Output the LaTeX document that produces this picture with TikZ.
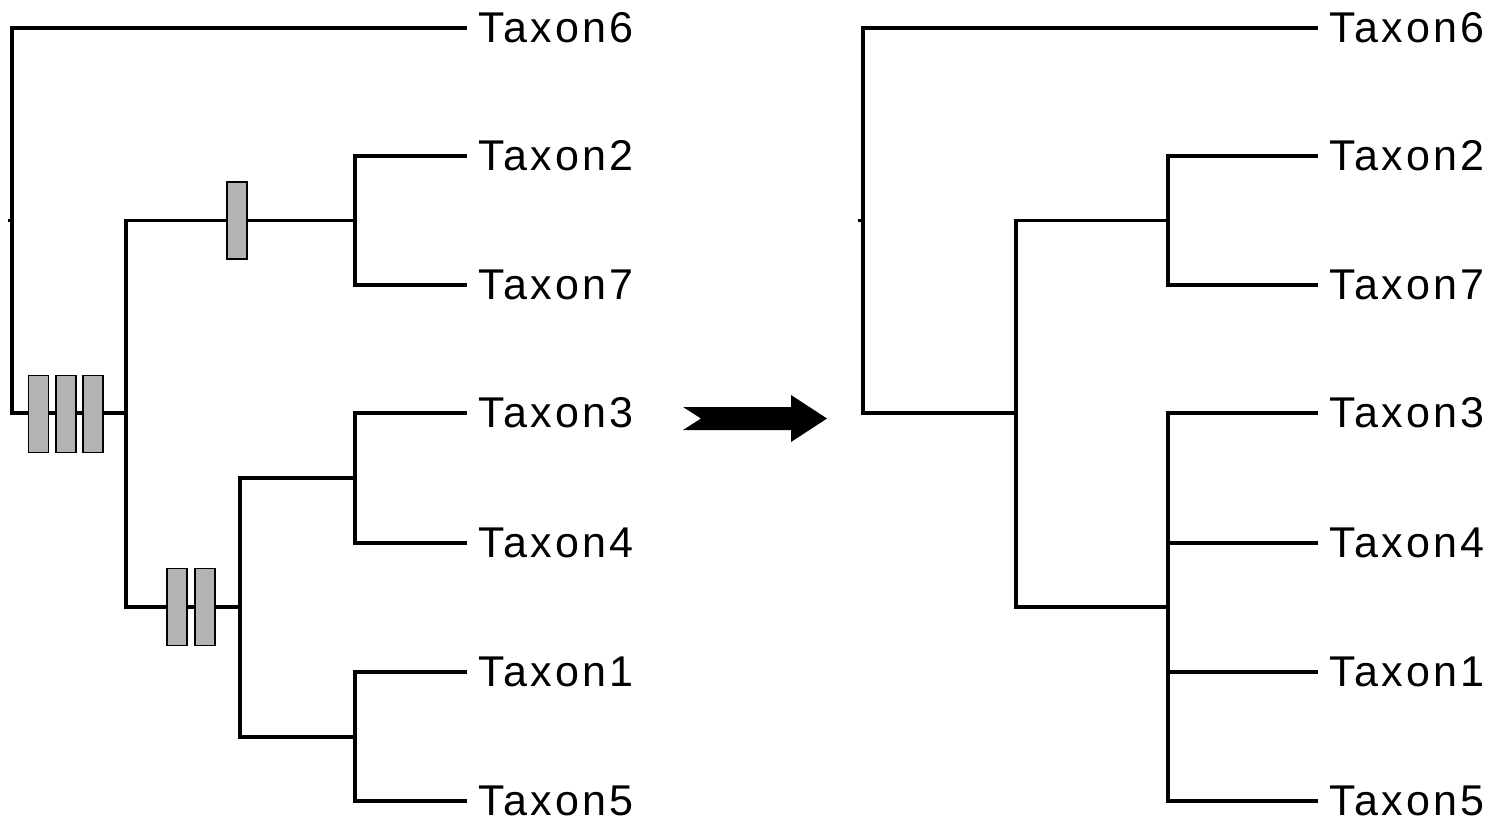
\documentclass[tikz,border=0pt]{standalone}
\usepackage{fontspec}
\newfontfamily\taxfont[LetterSpace=7.5]{Liberation Sans}
\definecolor{synapo}{HTML}{B3B3B3}
\begin{document}
\begin{tikzpicture}[x=0.02cm,y=-0.02cm,
  branch/.style={line width=1.9pt, line join=miter},
  taxon/.style={anchor=west, inner xsep=0.22cm, inner ysep=0pt,
    font=\taxfont\fontsize{24.5}{28}\selectfont},
  charbox/.style={draw=black, line width=0.9pt, fill=synapo,
    minimum width=0.4cm, minimum height=1.54cm, inner sep=0pt}]
\useasboundingbox (0,0) rectangle (1494,819);

% ---------- tree with character changes ----------
\node[taxon] (Lt6) at (467,28)  {Taxon6};
\node[taxon] (Lt2) at (467,156) {Taxon2};
\node[taxon] (Lt7) at (467,285) {Taxon7};
\node[taxon] (Lt3) at (467,413) {Taxon3};
\node[taxon] (Lt4) at (467,543) {Taxon4};
\node[taxon] (Lt1) at (467,672) {Taxon1};
\node[taxon] (Lt5) at (467,801) {Taxon5};

\coordinate (Lroot) at (12,220.5);
\coordinate (La) at (126,413);
\coordinate (Lb) at (355,220.5);
\coordinate (Lc) at (240,607);
\coordinate (Ld) at (355,478);
\coordinate (Le) at (355,737);

\draw[branch] (Lt6.west) -| (Lroot) |- (La);
\draw[branch] (Lroot) -- ++(-4,0);
\draw[branch] (Lb) -| (La) |- (Lc);
\draw[branch] (Lt2.west) -| (Lb) |- (Lt7.west);
\draw[branch] (Ld) -| (Lc) |- (Le);
\draw[branch] (Lt3.west) -| (Ld) |- (Lt4.west);
\draw[branch] (Lt1.west) -| (Le) |- (Lt5.west);

\node[charbox] (c1) at (38.5,414) {};
\node[charbox] (c2) at (66,414) {};
\node[charbox] (c3) at (93,414) {};
\node[charbox] (c4) at (237,220.5) {};
\node[charbox] (c5) at (177,607) {};
\node[charbox] (c6) at (205,607) {};

% ---------- block arrow ----------
\fill[black] (683,407) -- (791,407) -- (791,395) -- (827,418.5)
  -- (791,442) -- (791,430) -- (683,430) -- (701,418.5) -- cycle;

% ---------- collapsed tree ----------
\node[taxon] (Rt6) at (1318,28)  {Taxon6};
\node[taxon] (Rt2) at (1318,156) {Taxon2};
\node[taxon] (Rt7) at (1318,285) {Taxon7};
\node[taxon] (Rt3) at (1318,413) {Taxon3};
\node[taxon] (Rt4) at (1318,543) {Taxon4};
\node[taxon] (Rt1) at (1318,672) {Taxon1};
\node[taxon] (Rt5) at (1318,801) {Taxon5};

\coordinate (Rroot) at (863,220.5);
\coordinate (Ra) at (1016,413);
\coordinate (Rb) at (1168,220.5);
\coordinate (Rc) at (1168,607);

\draw[branch] (Rt6.west) -| (Rroot) |- (Ra);
\draw[branch] (Rroot) -- ++(-5,0);
\draw[branch] (Rb) -| (Ra) |- (Rc);
\draw[branch] (Rt2.west) -| (Rb) |- (Rt7.west);
\draw[branch] (Rt3.west) -| (Rc) |- (Rt5.west);
\draw[branch] (Rc |- Rt4.west) -- (Rt4.west);
\draw[branch] (Rc |- Rt1.west) -- (Rt1.west);
\end{tikzpicture}
\end{document}
